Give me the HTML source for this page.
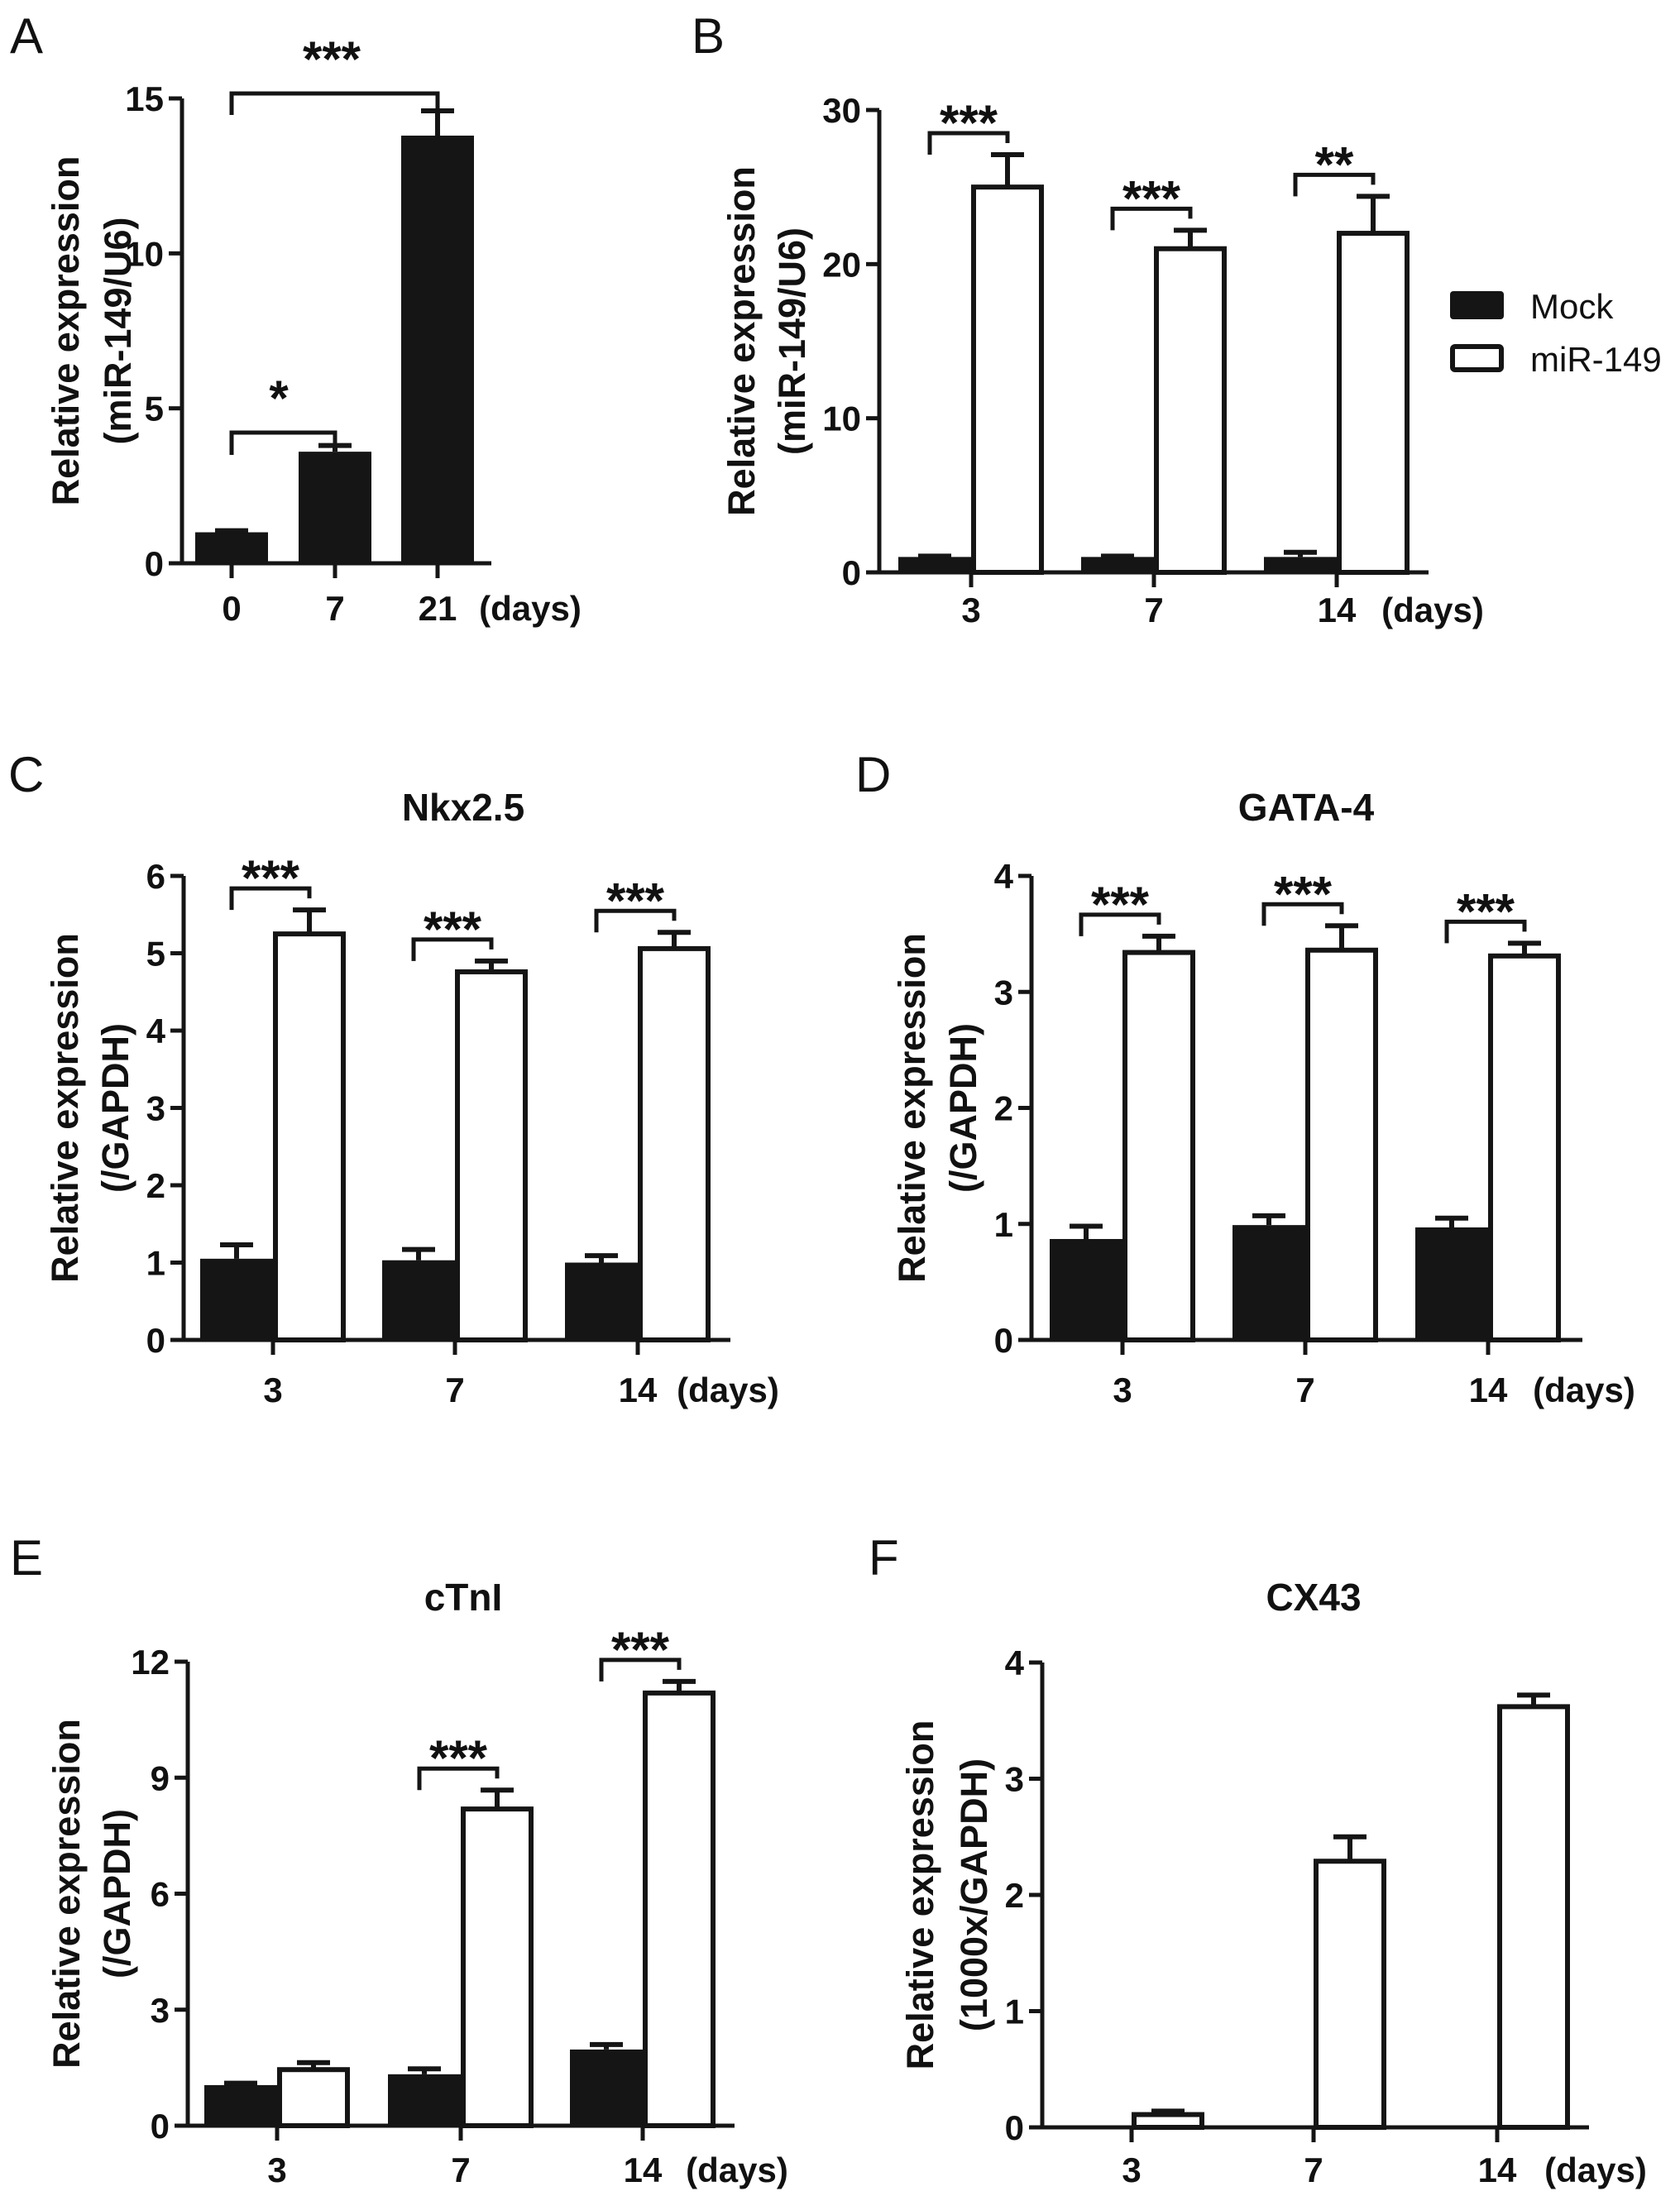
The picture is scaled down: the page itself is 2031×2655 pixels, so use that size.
<!DOCTYPE html>
<html><head><meta charset="utf-8">
<style>
html,body{margin:0;padding:0;background:#fff;}
svg{display:block;}
text{font-family:"Liberation Sans",Arial,sans-serif;fill:#111;}
</style></head>
<body>
<svg id="fig" width="2031" height="2655" viewBox="0 0 2031 2655" xmlns="http://www.w3.org/2000/svg"></svg>
<script>
// ---------- Data ----------
const aCategories = ["0","7","21"];
const aValues = [1.0, 3.6, 13.8];
const aErrors = [0.05, 0.2, 0.8];
const aTicks = [0,5,10,15];

const bCategories = ["3","7","14"];
const bMock = [1.0, 1.0, 1.0];
const bMockErr = [0.05, 0.05, 0.3];
const bMir = [25.0, 21.0, 22.0];
const bMirErr = [2.1, 1.2, 2.4];
const bTicks = [0,10,20,30];
const bStars = ["***","***","**"];

const cCategories = ["3","7","14"];
const cMock = [1.05, 1.03, 1.0];
const cMockErr = [0.18, 0.14, 0.09];
const cMir = [5.25, 4.76, 5.06];
const cMirErr = [0.31, 0.14, 0.21];
const cTicks = [0,1,2,3,4,5,6];
const cStars = ["***","***","***"];

const dCategories = ["3","7","14"];
const dMock = [0.87, 0.99, 0.97];
const dMockErr = [0.11, 0.08, 0.08];
const dMir = [3.34, 3.36, 3.31];
const dMirErr = [0.14, 0.21, 0.11];
const dTicks = [0,1,2,3,4];
const dStars = ["***","***","***"];

const eCategories = ["3","7","14"];
const eMock = [1.05, 1.33, 1.97];
const eMockErr = [0.05, 0.14, 0.13];
const eMir = [1.45, 8.19, 11.19];
const eMirErr = [0.18, 0.49, 0.3];
const eTicks = [0,3,6,9,12];
const eStars = ["","***","***"];

const fCategories = ["3","7","14"];
const fMock = [0, 0, 0];
const fMockErr = [0, 0, 0];
const fMir = [0.11, 2.29, 3.62];
const fMirErr = [0.03, 0.21, 0.1];
const fTicks = [0,1,2,3,4];
const fStars = ["","",""];

// ---------- Helpers ----------
const NS = "http://www.w3.org/2000/svg";
const svg = document.getElementById("fig");
function mk(tag, attrs, parent){
  const e = document.createElementNS(NS, tag);
  for (const k in attrs) e.setAttribute(k, attrs[k]);
  (parent||svg).appendChild(e);
  return e;
}
function txt(s, attrs, parent){ const t = mk("text", attrs, parent); t.textContent = s; return t; }

function drawPanel(p){
  const g = mk("g", {});
  
  
  const y = v => p.y0 - (v - p.yMin) / (p.yMax - p.yMin) * (p.y0 - p.yTop);
  const BW = 88, SW = 5;
  const L = txt(p.letter, {x:p.letterX, y:p.letterY, "font-size":60, "font-weight":"normal"}, g);
  
  
  if (p.title){
    const T = txt(p.title, {x:p.titleX, y:p.titleY+16, "font-size":46, "font-weight":"bold", "text-anchor":"middle"}, g);
    
    
  }
  const cy = (p.y0 + p.yTop)/2;
  const t1 = txt(p.ylab1, {x:0, y:0, "font-size":45, "font-weight":"bold", "text-anchor":"middle",
    transform:`translate(${p.ylabX1+16},${cy}) rotate(-90)`}, g);
  
  
  const t2 = txt(p.ylab2, {x:0, y:0, "font-size":45, "font-weight":"bold", "text-anchor":"middle",
    transform:`translate(${p.ylabX2+16},${cy}) rotate(-90)`}, g);
  
  
  p.cats.forEach((c,i)=>{
    const tx = p.ticksX[i];
    if (p.single){
      if (p.mock[i] > 0){
        const r = mk("rect", {x:tx-BW/2, y:y(p.mock[i]), width:BW, height:p.y0-y(p.mock[i]), fill:"#151515"}, g);
        
        
        const e = mk("path", {d:`M${tx} ${y(p.mock[i])} V${y(p.mock[i]+p.mockErr[i])} M${tx-20} ${y(p.mock[i]+p.mockErr[i])} H${tx+20}`, stroke:"#151515", "stroke-width":6, fill:"none"}, g);
        
        
      }
    } else {
      if (p.mock[i] > 0){
        const mx = tx - BW;
        const r = mk("rect", {x:mx, y:y(p.mock[i]), width:BW, height:p.y0-y(p.mock[i]), fill:"#151515"}, g);
        
        
        const ec = mx + BW/2;
        const e = mk("path", {d:`M${ec} ${y(p.mock[i])} V${y(p.mock[i]+p.mockErr[i])} M${ec-20} ${y(p.mock[i]+p.mockErr[i])} H${ec+20}`, stroke:"#151515", "stroke-width":6, fill:"none"}, g);
        
        
      }
      const wx = tx + 3;
      const ww = BW - 6;
      const r2 = mk("rect", {x:wx, y:y(p.mir[i]), width:ww, height:p.y0-y(p.mir[i]), fill:"#fff", stroke:"#151515", "stroke-width":6}, g);
      
      
      const ec2 = wx + ww/2;
      const e2 = mk("path", {d:`M${ec2} ${y(p.mir[i])} V${y(p.mir[i]+p.mirErr[i])} M${ec2-20} ${y(p.mir[i]+p.mirErr[i])} H${ec2+20}`, stroke:"#151515", "stroke-width":6, fill:"none"}, g);
      
      
      if (p.stars[i]){
        const top = y(p.mir[i]+p.mirErr[i]);
        const by = top - 26;
        const lx = tx - 50, rx = ec2;
        const br = mk("path", {d:`M${lx} ${by+26} V${by} H${rx} V${by+12}`, stroke:"#151515", "stroke-width":5, fill:"none"}, g);
        
        
        const st = txt(p.stars[i], {x:(lx+rx)/2, y:by+8, "font-size":60, "font-weight":"bold", "text-anchor":"middle"}, g);
        
        
      }
    }
  });
  const ax = mk("path", {d:`M${p.axX} ${p.yTop} V${p.y0} M${p.axX-16} ${p.y0} H${p.axEnd}`, stroke:"#151515", "stroke-width":SW, fill:"none"}, g);
  
  
  p.yTicks.forEach(v=>{
    const tk = mk("line", {x1:p.axX-16, x2:p.axX, y1:y(v), y2:y(v), stroke:"#151515", "stroke-width":SW}, g);
    
    
    const tl = txt(String(v), {x:p.axX-22, y:y(v)+15, "font-size":42, "font-weight":"bold", "text-anchor":"end"}, g);
    
    
  });
  p.cats.forEach((c,i)=>{
    const tx = p.ticksX[i];
    const tk = mk("line", {x1:tx, x2:tx, y1:p.y0, y2:p.y0+18, stroke:"#151515", "stroke-width":SW}, g);
    
    
    const tl = txt(c, {x:tx, y:p.xLabY+15, "font-size":42, "font-weight":"bold", "text-anchor":"middle"}, g);
    
    
  });
  const dl = txt("(days)", {x:p.daysX, y:p.xLabY+15, "font-size":42, "font-weight":"bold", "text-anchor":"middle"}, g);
  
  
  return {g, y};
}

const pa = drawPanel({id:"a", letter:"A", letterX:12, letterY:64, ylab1:"Relative expression", ylab2:"(miR-149/U6)",
  ylabX1:79, ylabX2:142, axX:220, axEnd:594, y0:681, yTop:119, yMin:0, yMax:15, yTicks:aTicks,
  cats:aCategories, ticksX:[280,405,529], single:true, mock:aValues, mockErr:aErrors, mir:[], mirErr:[], stars:[],
  xLabY:735, daysX:641});
(function(){
  const y = pa.y, g = pa.g;
  const b1 = mk("path", {d:`M280 550 V523 H405 V${y(aValues[1]+aErrors[1])}`, stroke:"#151515", "stroke-width":5, fill:"none"}, g);
  
  
  const s1 = txt("*", {x:337, y:502, "font-size":60, "font-weight":"bold", "text-anchor":"middle"}, g);
  
  
  const b2 = mk("path", {d:`M280 139 V113 H529 V${y(aValues[2]+aErrors[2])}`, stroke:"#151515", "stroke-width":5, fill:"none"}, g);
  
  
  const s2 = txt("***", {x:401, y:92, "font-size":60, "font-weight":"bold", "text-anchor":"middle"}, g);
  
  
})();

drawPanel({id:"b", letter:"B", letterX:836, letterY:64, ylab1:"Relative expression", ylab2:"(miR-149/U6)",
  ylabX1:896, ylabX2:957, axX:1063, axEnd:1727, y0:692, yTop:133, yMin:0, yMax:30, yTicks:bTicks,
  cats:bCategories, ticksX:[1174,1395,1616], mock:bMock, mockErr:bMockErr, mir:bMir, mirErr:bMirErr, stars:bStars,
  xLabY:737, daysX:1732});

drawPanel({id:"c", letter:"C", letterX:10, letterY:957, title:"Nkx2.5", titleX:560, titleY:976,
  ylab1:"Relative expression", ylab2:"(/GAPDH)", ylabX1:78, ylabX2:139, axX:222, axEnd:883, y0:1620, yTop:1059,
  yMin:0, yMax:6, yTicks:cTicks, cats:cCategories, ticksX:[330,550,771], mock:cMock, mockErr:cMockErr,
  mir:cMir, mirErr:cMirErr, stars:cStars, xLabY:1680, daysX:880});

drawPanel({id:"d", letter:"D", letterX:1034, letterY:957, title:"GATA-4", titleX:1579, titleY:976,
  ylab1:"Relative expression", ylab2:"(/GAPDH)", ylabX1:1102, ylabX2:1164, axX:1247, axEnd:1913, y0:1620, yTop:1059,
  yMin:0, yMax:4, yTicks:dTicks, cats:dCategories, ticksX:[1357,1578,1799], mock:dMock, mockErr:dMockErr,
  mir:dMir, mirErr:dMirErr, stars:dStars, xLabY:1680, daysX:1915});

drawPanel({id:"e", letter:"E", letterX:12, letterY:1904, title:"cTnI", titleX:560, titleY:1931,
  ylab1:"Relative expression", ylab2:"(/GAPDH)", ylabX1:80, ylabX2:141, axX:227, axEnd:888, y0:2570, yTop:2009,
  yMin:0, yMax:12, yTicks:eTicks, cats:eCategories, ticksX:[335,557,777], mock:eMock, mockErr:eMockErr,
  mir:eMir, mirErr:eMirErr, stars:eStars, xLabY:2623, daysX:891});

drawPanel({id:"f", letter:"F", letterX:1050, letterY:1904, title:"CX43", titleX:1588, titleY:1931,
  ylab1:"Relative expression", ylab2:"(1000x/GAPDH)", ylabX1:1112, ylabX2:1177, axX:1260, axEnd:1921, y0:2572, yTop:2010,
  yMin:0, yMax:4, yTicks:fTicks, cats:fCategories, ticksX:[1368,1588,1810], mock:fMock, mockErr:fMockErr,
  mir:fMir, mirErr:fMirErr, stars:fStars, xLabY:2623, daysX:1929});

const lg = mk("g", {});


const sw1 = mk("rect", {x:1753, y:352, width:65, height:34, rx:4, fill:"#151515"}, lg);


const lt1 = txt("Mock", {x:1850, y:385, "font-size":42}, lg);


const sw2 = mk("rect", {x:1756, y:419, width:59, height:28, rx:3, fill:"#fff", stroke:"#151515", "stroke-width":6}, lg);


const lt2 = txt("miR-149", {x:1850, y:449, "font-size":42}, lg);


</script>
</body></html>
